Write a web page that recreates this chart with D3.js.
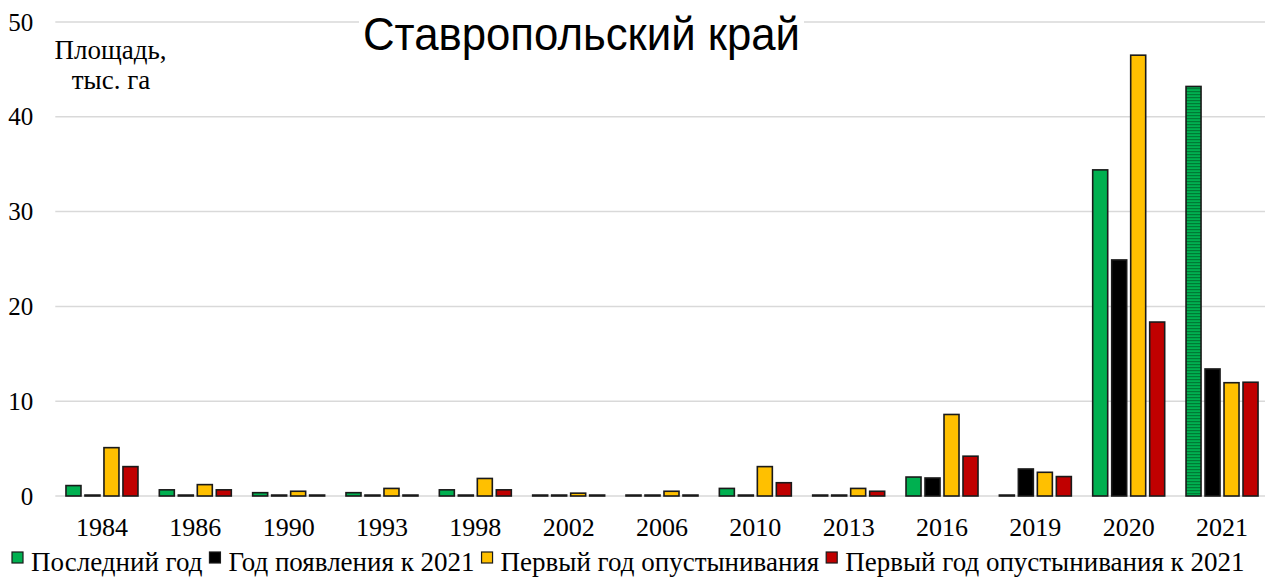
<!DOCTYPE html>
<html lang="ru">
<head>
<meta charset="UTF-8">
<title>Ставропольский край</title>
<style>
  html, body { margin: 0; padding: 0; background: #fff; overflow: hidden; }
  text { fill: #000; }
</style>
</head>
<body>
<script src="https://cdn.jsdelivr.net/npm/d3@7"></script>
<script>
const years = ['1984', '1986', '1990', '1993', '1998', '2002', '2006', '2010', '2013', '2016', '2019', '2020', '2021']
const seriesNames = ['Последний год', 'Год появления к 2021', 'Первый год опустынивания', 'Первый год опустынивания к 2021']
const lastYear = [1.1, 0.65, 0.35, 0.35, 0.65, 0.1, 0.1, 0.8, 0.1, 2.0, 0.1, 34.4, 43.2]
const appearTo2021 = [0.1, 0.1, 0.1, 0.1, 0.1, 0.1, 0.1, 0.1, 0.1, 1.9, 2.85, 24.9, 13.4]
const firstDesert = [5.1, 1.2, 0.5, 0.8, 1.85, 0.3, 0.5, 3.1, 0.8, 8.6, 2.5, 46.5, 11.95]
const firstDesertTo2021 = [3.1, 0.65, 0.1, 0.1, 0.65, 0.1, 0.1, 1.4, 0.5, 4.2, 2.05, 18.35, 12.0]
const yTicks = [0, 10, 20, 30, 40, 50]
const colors = ['#00b050', '#000000', '#ffc000', '#c00000']

const series = [lastYear, appearTo2021, firstDesert, firstDesertTo2021]

const width = 1265
const height = 578
const margin = { top: 22, bottom: 82, left: 55.3, right: -3.7 }
const w = width - margin.left - margin.right
const h = height - margin.top - margin.bottom
const serif = '"Liberation Serif", "Times New Roman", serif'

const svg = d3.select('body').append('svg')
    .attr('width', width)
    .attr('height', height)

// striped fill for the 2021 "last year" bar
const defs = svg.append('defs')
const pat = defs.append('pattern')
    .attr('id', 'stripes')
    .attr('patternUnits', 'userSpaceOnUse')
    .attr('width', 6).attr('height', 3)
pat.append('rect').attr('width', 6).attr('height', 3).attr('fill', '#00b050')
pat.append('rect').attr('width', 6).attr('height', 1.2).attr('fill', '#007a35')

const g = svg.append('g')
    .attr('transform', `translate(${margin.left}, ${margin.top})`)

const x0 = d3.scaleBand()
    .domain(years)
    .range([0, w])
    .paddingInner(0.186)
    .paddingOuter(0.093)

const x1 = d3.scaleBand()
    .domain(d3.range(series.length))
    .range([0, x0.bandwidth()])
    .paddingInner(0.21)
    .paddingOuter(0.105)

const y = d3.scaleLinear()
    .domain([0, 50])
    .range([h, 0])

// gridlines
g.selectAll('.grid')
    .data(yTicks)
    .enter()
    .append('line')
    .attr('class', 'grid')
    .attr('x1', 0).attr('x2', w)
    .attr('y1', d => y(d)).attr('y2', d => y(d))
    .attr('stroke', '#d9d9d9')
    .attr('stroke-width', 1.5)

// y axis labels
const yAxis = g.append('g')
    .call(d3.axisLeft(y).tickValues(yTicks).tickSize(0).tickPadding(22))
yAxis.select('.domain').remove()
yAxis.selectAll('text')
    .attr('font-family', serif)
    .attr('font-size', 25)
    .attr('fill', '#000')

// x axis labels
const xAxis = g.append('g')
    .attr('transform', `translate(0, ${h})`)
    .call(d3.axisBottom(x0).tickSize(0).tickPadding(22))
xAxis.select('.domain').remove()
xAxis.selectAll('text')
    .attr('font-family', serif)
    .attr('font-size', 26)
    .attr('fill', '#000')

// bars
const groups = g.selectAll('.year')
    .data(years)
    .enter()
    .append('g')
    .attr('class', 'year')
    .attr('transform', d => `translate(${x0(d)}, 0)`)

groups.selectAll('rect')
    .data((d, i) => series.map((s, k) => ({ k: k, v: s[i], year: d })))
    .enter()
    .append('rect')
    .attr('x', d => x1(d.k))
    .attr('y', d => y(d.v))
    .attr('width', x1.bandwidth())
    .attr('height', d => y(0) - y(d.v))
    .attr('fill', d => (d.k === 0 && d.year === '2021') ? 'url(#stripes)' : colors[d.k])
    .attr('stroke', '#1a1a1a')
    .attr('stroke-width', 1.6)

// title with white background
const titleBg = svg.append('rect').attr('fill', '#fff')
const title = svg.append('text')
    .attr('x', 581.5)
    .attr('y', 50)
    .attr('text-anchor', 'middle')
    .attr('font-family', '"Liberation Sans", Arial, sans-serif')
    .attr('font-size', 47)
    .attr('textLength', 437)
    .attr('lengthAdjust', 'spacingAndGlyphs')
    .text('Ставропольский край')
const tb = title.node().getBBox()
titleBg
    .attr('x', tb.x - 4).attr('y', tb.y)
    .attr('width', tb.width + 8).attr('height', tb.height)

// axis unit label
const unit = svg.append('text')
    .attr('font-family', serif)
    .attr('font-size', 27)
    .attr('text-anchor', 'middle')
unit.append('tspan').attr('x', 110.5).attr('y', 59).text('Площадь,')
unit.append('tspan').attr('x', 111).attr('y', 89).text('тыс. га')

// legend
const legend = svg.append('g')
    .attr('transform', 'translate(12, 0)')
let lx = 0
seriesNames.forEach((name, k) => {
    const item = legend.append('g').attr('transform', `translate(${lx}, 0)`)
    item.append('rect')
        .attr('x', 0).attr('y', 552)
        .attr('width', 11).attr('height', 11)
        .attr('fill', colors[k])
        .attr('stroke', '#1a1a1a')
        .attr('stroke-width', 1.2)
    const t = item.append('text')
        .attr('x', 19).attr('y', 571)
        .attr('font-family', serif)
        .attr('font-size', 27)
        .text(name)
    lx += 19 + t.node().getComputedTextLength() + 7
})
</script>
</body>
</html>
